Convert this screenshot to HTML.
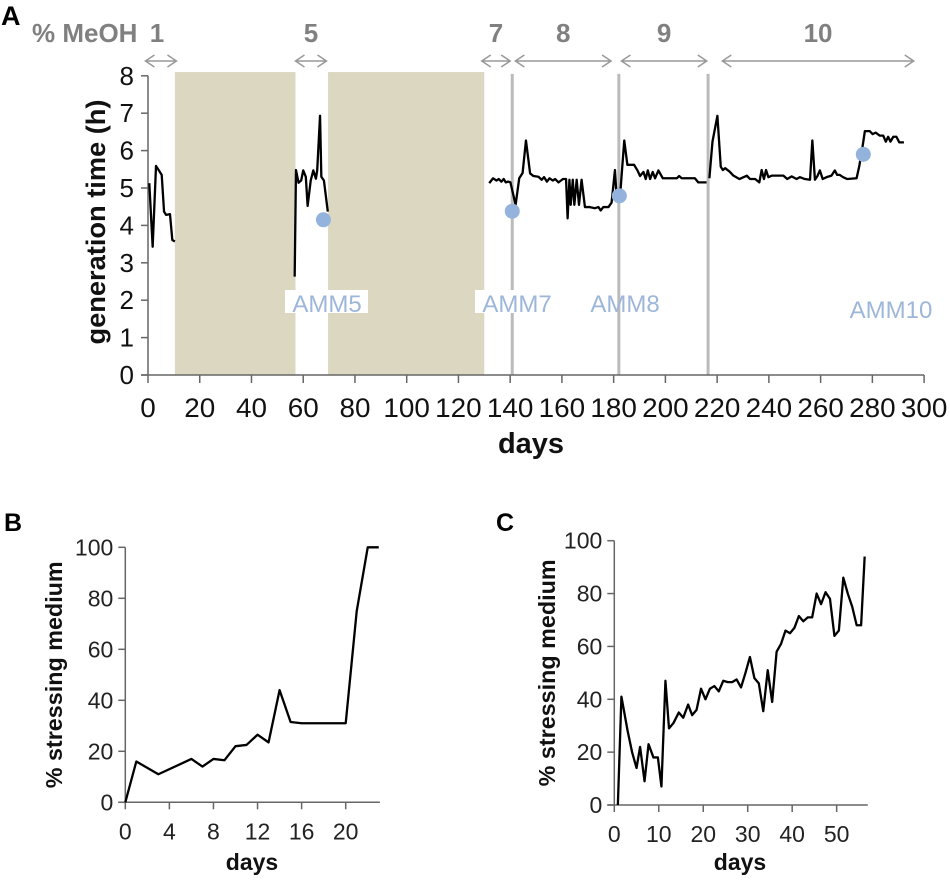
<!DOCTYPE html>
<html><head><meta charset="utf-8"><style>
body{margin:0;background:#fff;}
svg{display:block;font-family:"Liberation Sans",Arial,sans-serif;}
</style></head><body>
<svg id="chart" width="950" height="880" viewBox="0 0 950 880"></svg>
<script>
// ---- Panel A data ----
const aTicksX=[0,20,40,60,80,100,120,140,160,180,200,220,240,260,280,300];
const aTicksY=[0,1,2,3,4,5,6,7,8];
const aShade=[[10.4,57],[69.6,130]];
const aVLines=[140.8,182,216.5];
const aSeg1Days=[0.5,1.8,3.1,5.3,6.2,7,8.5,9.4,10.4];
const aSeg1Vals=[5.13,3.43,5.59,5.35,4.37,4.28,4.3,3.61,3.57];
const aSeg2Days=[56.7,57.2,58.2,59.2,60,61,61.7,62.9,63.9,64.9,65.4,66.5,67,68,69.5];
const aSeg2Vals=[2.63,5.48,5.14,5.2,5.47,5.3,4.52,5.2,5.47,5.25,5.47,6.93,5.3,5.2,4.37];
const aSeg3Days=[131.9,133.4,134.7,135.6,136.6,137.5,138.3,139.2,140.1,142.1,143.5,144.8,146.1,147.7,149,150.9,152.2,153.1,154.2,155.2,156.5,157.4,158.7,160.4,161.6,162.2,162.9,163.4,164.2,164.8,165.7,166.6,167.6,168.9,170.8,172.8,174.1,175,176,178,179.2,180.5,181.2,182.5,184.1,185.3,187.9,189.2,190.2,191.5,192.4,193.2,194.1,195.1,196,197.3,199,204.4,205.3,206.3,211.4,212.7,215.9];
const aSeg3Vals=[5.13,5.26,5.2,5.24,5.17,5.24,5.15,5.17,5.15,4.55,5.26,5.4,6.27,5.39,5.32,5.3,5.22,5.29,5.17,5.26,5.2,5.24,5.15,5.24,5.24,4.19,5.22,4.55,5.22,4.55,5.22,4.55,5.22,4.49,4.49,4.46,4.49,4.4,4.49,4.49,4.61,5.48,4.69,4.81,6.27,5.62,5.62,5.47,5.32,5.43,5.24,5.47,5.24,5.43,5.26,5.47,5.26,5.26,5.32,5.26,5.26,5.15,5.15];
const aSeg4Days=[217,218.2,220.1,221.4,222.2,223.1,224.8,226.3,228.6,230.2,231.5,232.7,234.7,236.3,237.2,238.1,238.9,239.8,241.1,245.6,247.1,248.8,250.7,252,253.9,255.9,256.8,257.8,258.7,259.7,260.8,262.3,264.2,265.5,266.4,267.4,268.7,270.3,273.9,274.9,276.2,277.1,279,280.1,281.3,282.9,284.2,285.2,286.1,287,288.1,289.3,290.4,292.2];
const aSeg4Vals=[5.26,6.24,6.93,5.57,5.48,5.53,5.44,5.33,5.24,5.29,5.33,5.24,5.24,5.15,5.48,5.24,5.48,5.29,5.33,5.33,5.24,5.31,5.24,5.29,5.24,5.22,6.27,5.22,5.31,5.47,5.24,5.29,5.33,5.47,5.35,5.35,5.29,5.24,5.26,5.57,6.1,6.52,6.52,6.44,6.48,6.4,6.4,6.24,6.37,6.24,6.37,6.37,6.22,6.22];
const aDotDays=[67.8,140.8,182.2,276.5];
const aDotVals=[4.15,4.38,4.79,5.9];
const aDotLabels=["AMM5","AMM7","AMM8","AMM10"];
const meohLabels=["1","5","7","8","9","10"];
const meohRanges=[[-1,11],[57,69],[129,140],[142,179],[183,216],[222,296]];
// ---- Panel B data ----
const bTicksX=[0,4,8,12,16,20];
const bTicksY=[0,20,40,60,80,100];
const bDays=[0,1,3,5,6,7,8,9,10,11,12,13,14,15,16,20,21,22,23];
const bVals=[0,16,11,15,17,14,17,16.5,22,22.5,26.5,23.5,44,31.5,31,31,75,100,100];
// ---- Panel C data ----
const cTicksX=[0,10,20,30,40,50];
const cTicksY=[0,20,40,60,80,100];
const cDays=[0.8,1.6,3,4,5,5.8,6.8,7.7,8.8,9.8,10.6,11.5,12.3,13.3,14.5,15.5,16.6,17.5,18.5,19.5,20.5,21.5,22.5,23.5,24.5,25.5,26.5,27.5,28.5,29.5,30.5,31.5,32.5,33.5,34.5,35.5,36.5,37.5,38.5,39.5,40.5,41.5,42.5,43.5,44.5,45.5,46.5,47.5,48.5,49.5,50.5,51.5,52.5,53.5,54.5,55.5,56.3];
const cVals=[0,41,28,20,14,22,9,23,18,18,7,47,29,31,35,33,38,34,36,44,40,44,45,43,47,46.5,46.5,47.5,44.5,50,56,48,46,35.5,51,39,58,61,66,65,67,71.5,69.5,71,71,80,76,80.5,78,64,66,86,80,75,68,68,94];

const NS="http://www.w3.org/2000/svg";
const svg=document.getElementById('chart');
function mk(tag,attrs,parent){const e=document.createElementNS(NS,tag);for(const k in attrs)e.setAttribute(k,attrs[k]);(parent||svg).appendChild(e);return e;}
function txt(s,attrs,parent){const e=mk('text',attrs,parent);e.textContent=s;return e;}

// ===== Panel A =====
const ax=d=>148+d*2.587, ay=v=>375-v*37.4;
const gA=mk('g',{});


aShade.forEach(r=>{const e=mk('rect',{x:ax(r[0]),y:ay(8.1),width:ax(r[1])-ax(r[0]),height:ay(0)-ay(8.1),fill:'#dcd7c1'},gA);

});
aVLines.forEach(d=>{const e=mk('line',{x1:ax(d),x2:ax(d),y1:ay(8.05),y2:ay(0),stroke:'#bbb','stroke-width':3},gA);

});
mk('line',{x1:148,x2:148,y1:ay(8),y2:ay(0),stroke:'#666','stroke-width':1.5},gA);
mk('line',{x1:141,x2:ax(300),y1:ay(0),y2:ay(0),stroke:'#666','stroke-width':1.5},gA);
aTicksY.forEach(v=>{mk('line',{x1:141,x2:148,y1:ay(v),y2:ay(v),stroke:'#666','stroke-width':1.5},gA);
const t=txt(String(v),{x:134,y:ay(v)+9,'font-size':26,'text-anchor':'end',fill:'#111'},gA);

});
aTicksX.forEach(d=>{mk('line',{x1:ax(d),x2:ax(d),y1:ay(0),y2:ay(0)+8,stroke:'#666','stroke-width':1.5},gA);
const t=txt(String(d),{x:ax(d),y:417,'font-size':27,'text-anchor':'middle',fill:'#111','textLength':String(d).length*15.5,'lengthAdjust':'spacingAndGlyphs'},gA);

});
let t=txt('days',{x:531,y:453,'font-size':29,'font-weight':'bold','text-anchor':'middle',fill:'#111'},gA);


t=txt('generation time (h)',{x:0,y:0,'font-size':27,'font-weight':'bold','text-anchor':'middle',fill:'#111',transform:'translate(105,222) rotate(-90)','textLength':245,'lengthAdjust':'spacingAndGlyphs'},gA);


[[aSeg1Days,aSeg1Vals],[aSeg2Days,aSeg2Vals],[aSeg3Days,aSeg3Vals],[aSeg4Days,aSeg4Vals]].forEach(s=>{
const p=mk('polyline',{points:s[0].map((d,i)=>ax(d)+','+ay(s[1][i])).join(' '),fill:'none',stroke:'#000','stroke-width':2.3,'stroke-linejoin':'round'},gA);

});
const lblPos=[[327,303],[517,303],[625,303],[891,309]];
aDotDays.forEach((d,i)=>{
if(i<2){mk('rect',{x:i==0?285:475,y:290,width:i==0?83:40,height:23,fill:'#fff'},gA);}
const c=mk('circle',{cx:ax(d),cy:ay(aDotVals[i]),r:7.5,fill:'#93b3dc'},gA);


const l=txt(aDotLabels[i],{x:lblPos[i][0],y:lblPos[i][1]+9,'font-size':24,'text-anchor':'middle',fill:'#9db6da'},gA);

});
t=txt('A',{x:1,y:25,'font-size':27,'font-weight':'bold',fill:'#000'},gA);


t=txt('% MeOH',{x:32,y:42,'font-size':26,'font-weight':'bold',fill:'#808080'},gA);


meohRanges.forEach((r,i)=>{
const x1=ax(r[0]),x2=ax(r[1]),cx=(x1+x2)/2;
const lx=i==0?157:cx;
const l=txt(meohLabels[i],{x:lx,y:42,'font-size':26,'font-weight':'bold','text-anchor':'middle',fill:'#808080'},gA);


const a=mk('path',{d:`M${x1+9},55 L${x1},61 L${x1+9},67 M${x1},61 L${x2},61 M${x2-9},55 L${x2},61 L${x2-9},67`,fill:'none',stroke:'#999','stroke-width':1.5},gA);

});

// ===== Panels B & C =====
function panel(name,letter,lx,ox,xs,x0,y0,y100,xmax,tx,ty,days,vals,xlab){
const g=mk('g',{});


const X=d=>x0+d*xs, Y=v=>y0-(y0-y100)*v/100;
mk('line',{x1:x0,x2:x0,y1:Y(100),y2:Y(0),stroke:'#666','stroke-width':1.5},g);
mk('line',{x1:x0-7,x2:X(xmax),y1:Y(0),y2:Y(0),stroke:'#666','stroke-width':1.5},g);
ty.forEach(v=>{mk('line',{x1:x0-7,x2:x0,y1:Y(v),y2:Y(v),stroke:'#666','stroke-width':1.5},g);
const t=txt(String(v),{x:x0-12,y:Y(v)+8,'font-size':23,'text-anchor':'end',fill:'#222'},g);

});
tx.forEach(d=>{mk('line',{x1:X(d),x2:X(d),y1:Y(0),y2:Y(0)+7,stroke:'#666','stroke-width':1.5},g);
const t=txt(String(d),{x:X(d),y:Y(0)+37,'font-size':23,'text-anchor':'middle',fill:'#222'},g);

});
const p=mk('polyline',{points:days.map((d,i)=>X(d)+','+Y(vals[i])).join(' '),fill:'none',stroke:'#000','stroke-width':2.3,'stroke-linejoin':'round'},g);


let t=txt(letter,{x:lx,y:531,'font-size':25,'font-weight':'bold',fill:'#000'},g);


t=txt('days',{x:xlab,y:870,'font-size':23,'font-weight':'bold','text-anchor':'middle',fill:'#111'},g);


t=txt('% stressing medium',{x:0,y:0,'font-size':23,'font-weight':'bold','text-anchor':'middle',fill:'#111',transform:`translate(${ox},${(Y(0)+Y(100))/2}) rotate(-90)`,'textLength':227,'lengthAdjust':'spacingAndGlyphs'},g);


}
panel('panel-b','B',4,62,11.02,125.3,802.3,547.3,23.1,bTicksX,bTicksY,bDays,bVals,252);
panel('panel-c','C',496,555,4.447,614.3,805,540.7,57,cTicksX,cTicksY,cDays,cVals,740);
</script>
</body></html>
